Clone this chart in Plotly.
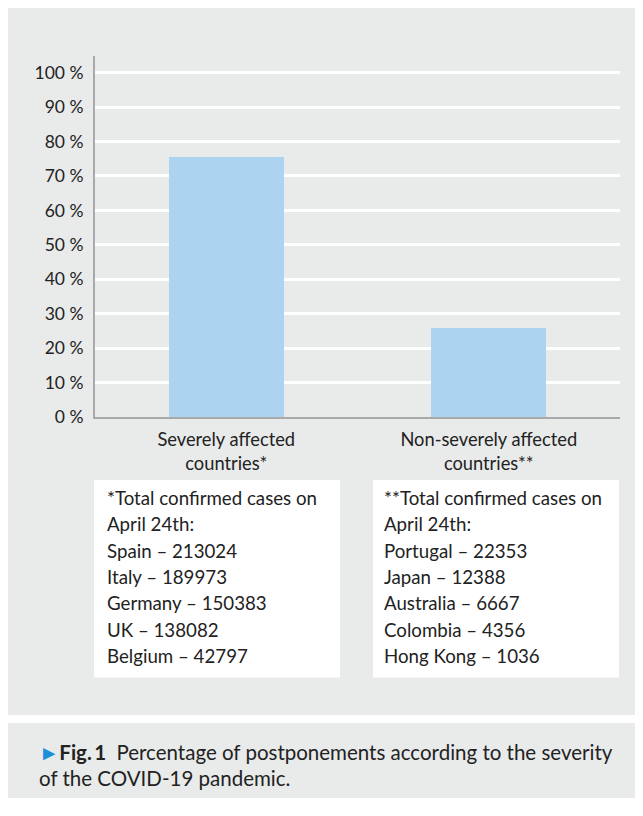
import plotly.graph_objects as go

# ---- data ----
categories = ["Severely affected countries*", "Non-severely affected countries**"]
category_labels = ["Severely affected<br>countries*", "Non-severely affected<br>countries**"]
values = [75.4, 25.9]
y_ticks = [0, 10, 20, 30, 40, 50, 60, 70, 80, 90, 100]
y_tick_labels = [f"{v} %" for v in y_ticks]

left_note = ["*Total confirmed cases on", "April 24th:", "Spain \u2013 213024",
             "Italy \u2013 189973", "Germany \u2013 150383", "UK \u2013 138082",
             "Belgium \u2013 42797"]
right_note = ["**Total confirmed cases on", "April 24th:", "Portugal \u2013 22353",
              "Japan \u2013 12388", "Australia \u2013 6667", "Colombia \u2013 4356",
              "Hong Kong \u2013 1036"]
caption_lines = ["<span style='color:#1b8fd8'>\u25BA</span><b>Fig.\u20091</b>\u2002Percentage of postponements according to the severity",
                 "of the COVID-19 pandemic."]

# ---- layout constants ----
OFF = 8  # page body margin offset
W, H = 643 - 2 * OFF, 816 - 2 * OFF
FONT = "Lato"
TXT = "#222222"
PANEL = "#e9eaea"

def px(x):
    return (x - OFF) / W

def py(y):
    return 1 - (y - OFF) / H

fig = go.Figure()
fig.add_trace(go.Bar(
    x=categories, y=values, width=0.438,
    marker=dict(color="#acd3ef", line=dict(width=0)),
    hoverinfo="skip",
))

shapes = [
    dict(type="rect", xref="paper", yref="paper", x0=0, x1=1, y0=py(724), y1=1,
         fillcolor=PANEL, line=dict(width=0), layer="below"),
    dict(type="rect", xref="paper", yref="paper", x0=0, x1=1, y0=0, y1=py(732),
         fillcolor=PANEL, line=dict(width=0), layer="below"),
    dict(type="rect", xref="paper", yref="paper", x0=px(94), x1=px(340), y0=py(686), y1=py(486),
         fillcolor="white", line=dict(width=0), layer="below"),
    dict(type="rect", xref="paper", yref="paper", x0=px(373), x1=px(619), y0=py(686), y1=py(486),
         fillcolor="white", line=dict(width=0), layer="below"),
]

annotations = []
for i, (l, r) in enumerate(zip(left_note, right_note)):
    yc = 504 + i * 26.7
    annotations.append(dict(x=px(105), y=py(yc), xref="paper", yref="paper", text=l,
                            showarrow=False, xanchor="left", yanchor="middle",
                            font=dict(family=FONT, size=18.7, color=TXT)))
    annotations.append(dict(x=px(382), y=py(yc), xref="paper", yref="paper", text=r,
                            showarrow=False, xanchor="left", yanchor="middle",
                            font=dict(family=FONT, size=18.7, color=TXT)))
for i, c in enumerate(caption_lines):
    annotations.append(dict(x=px(37), y=py(761 + i * 27), xref="paper", yref="paper", text=c,
                            showarrow=False, xanchor="left", yanchor="middle",
                            font=dict(family=FONT, size=20.5, color=TXT)))

fig.update_layout(
    width=W, height=H,
    margin=dict(l=0, r=0, t=0, b=0),
    paper_bgcolor="white",
    plot_bgcolor="rgba(0,0,0,0)",
    showlegend=False,
    bargap=0,
    shapes=shapes,
    annotations=annotations,
    font=dict(family=FONT, size=18, color=TXT),
    xaxis=dict(
        domain=[px(95), px(620)],
        type="category", range=[-0.5, 1.5],
        tickmode="array", tickvals=categories, ticktext=category_labels,
        showline=True, linecolor="#a8a9ab", linewidth=2,
        showgrid=False, ticks="", ticklabelstandoff=5,
        tickfont=dict(family=FONT, size=18.3, color=TXT),
    ),
    yaxis=dict(
        domain=[py(422.3), py(57)],
        range=[0, 104.7],
        tickmode="array", tickvals=y_ticks, ticktext=y_tick_labels,
        showline=True, linecolor="#a8a9ab", linewidth=2,
        showgrid=True, gridcolor="white", gridwidth=2.5,
        zeroline=False, ticks="", ticklabelstandoff=6,
        tickfont=dict(family=FONT, size=17.5, color=TXT),
    ),
)

fig.write_html("out.html")
